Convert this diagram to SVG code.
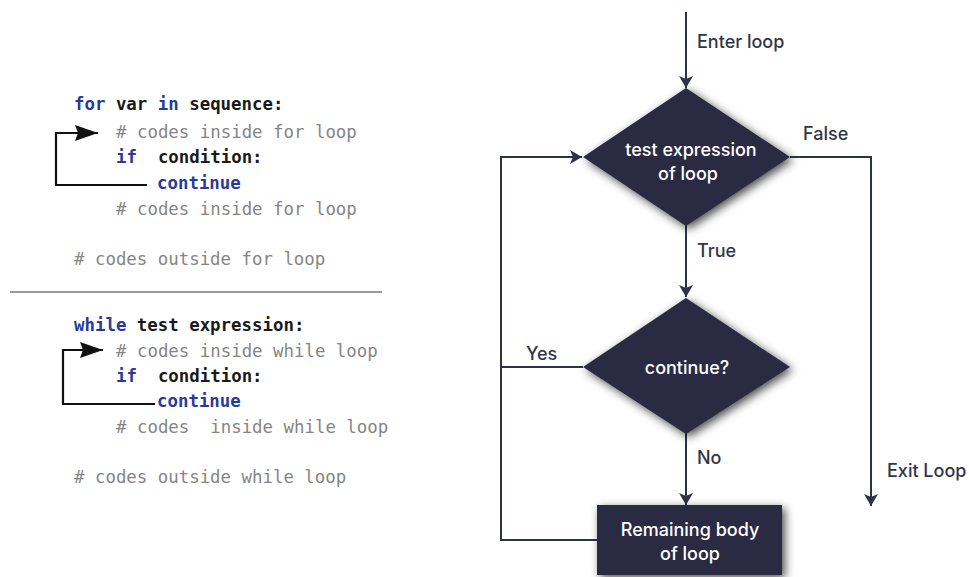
<svg xmlns="http://www.w3.org/2000/svg" width="969" height="577" viewBox="0 0 969 577">
  <defs>
    <style>
      .code { font-family: "DejaVu Sans Mono", "Liberation Mono", monospace; font-size: 17.4px; }
      .kw { fill: #2b3a9a; font-weight: bold; }
      .id { fill: #1a1a1a; font-weight: bold; }
      .cm { fill: #858585; }
      .lbl { font-family: Inter, "Noto Sans", sans-serif; font-size: 18px; font-weight: 500; fill: #33354a; }
      .nodetxt { font-family: Inter, "Noto Sans", sans-serif; font-size: 18px; font-weight: 500; fill: #ffffff; text-anchor: middle; }
      .node { fill: #2a2c42; filter: url(#shadow); }
      .flow { stroke: #2f3148; stroke-width: 2; fill: none; }
      .jump { stroke: #111111; stroke-width: 2.2; fill: none; }
    </style>
    <filter id="shadow" x="-25%" y="-25%" width="150%" height="150%">
      <feDropShadow dx="3" dy="3" stdDeviation="5" flood-color="#000000" flood-opacity="0.7"/>
    </filter>
    <marker id="head" markerWidth="12" markerHeight="16" refX="12" refY="8" orient="auto" markerUnits="userSpaceOnUse">
      <path d="M0,1 L12,8 L0,15 L3,8 Z" fill="#2f3148"/>
    </marker>
    <marker id="codehead" markerWidth="24" markerHeight="18" refX="23" refY="9" orient="auto" markerUnits="userSpaceOnUse">
      <path d="M0,1 L23,9 L0,17 L3,9 Z" fill="#111111"/>
    </marker>
  </defs>

  <rect width="969" height="577" fill="#ffffff"/>

  <!-- for-loop code sample -->
  <g id="for-code" class="code">
    <text x="74" y="110"><tspan class="kw">for</tspan><tspan class="id"> var </tspan><tspan class="kw">in</tspan><tspan class="id"> sequence:</tspan></text>
    <text x="116" y="138" class="cm"># codes inside for loop</text>
    <text x="116" y="163" xml:space="preserve"><tspan class="kw">if</tspan><tspan class="id">  condition:</tspan></text>
    <text x="157" y="189" class="kw">continue</text>
    <text x="116" y="215" class="cm"># codes inside for loop</text>
    <text x="74" y="265" class="cm"># codes outside for loop</text>
    <polyline class="jump" points="147,185 56,185 56,133 98,133" marker-end="url(#codehead)"/>
  </g>

  <line x1="10" y1="292" x2="382" y2="292" stroke="#9a9a9a" stroke-width="2"/>

  <!-- while-loop code sample -->
  <g id="while-code" class="code">
    <text x="74" y="331"><tspan class="kw">while</tspan><tspan class="id"> test expression:</tspan></text>
    <text x="116" y="357" class="cm"># codes inside while loop</text>
    <text x="116" y="382" xml:space="preserve"><tspan class="kw">if</tspan><tspan class="id">  condition:</tspan></text>
    <text x="157" y="407" class="kw">continue</text>
    <text x="116" y="433" class="cm" xml:space="preserve"># codes  inside while loop</text>
    <text x="74" y="483" class="cm"># codes outside while loop</text>
    <polyline class="jump" points="155,404 63,404 63,350 103,350" marker-end="url(#codehead)"/>
  </g>

  <!-- flowchart connectors -->
  <g id="connectors">
    <line class="flow" x1="686" y1="12" x2="686" y2="88" marker-end="url(#head)"/>
    <polyline class="flow" points="597,540 501,540 501,157 582,157" marker-end="url(#head)"/>
    <line class="flow" x1="501" y1="367" x2="583" y2="367"/>
    <line class="flow" x1="686" y1="225" x2="686" y2="297" marker-end="url(#head)"/>
    <line class="flow" x1="686" y1="433" x2="686" y2="505" marker-end="url(#head)"/>
    <polyline class="flow" points="790,157 871,157 871,506" marker-end="url(#head)"/>
    <text class="lbl" x="697" y="48">Enter loop</text>
    <text class="lbl" x="803" y="140">False</text>
    <text class="lbl" x="697" y="257">True</text>
    <text class="lbl" x="526" y="360">Yes</text>
    <text class="lbl" x="697" y="464">No</text>
    <text class="lbl" x="887" y="477">Exit Loop</text>
  </g>

  <!-- flowchart nodes -->
  <g id="test-expression">
    <polygon class="node" points="686,88 790,157 686,226 583,157"/>
    <text class="nodetxt" x="691" y="156">test expression</text>
    <text class="nodetxt" x="688" y="180">of loop</text>
  </g>
  <g id="continue-check">
    <polygon class="node" points="686,298 790,367 686,434 583,367"/>
    <text class="nodetxt" x="687" y="374">continue?</text>
  </g>
  <g id="remaining-body">
    <rect class="node" x="597" y="505" width="185" height="70"/>
    <text class="nodetxt" x="690" y="536">Remaining body</text>
    <text class="nodetxt" x="690" y="560">of loop</text>
  </g>
</svg>
